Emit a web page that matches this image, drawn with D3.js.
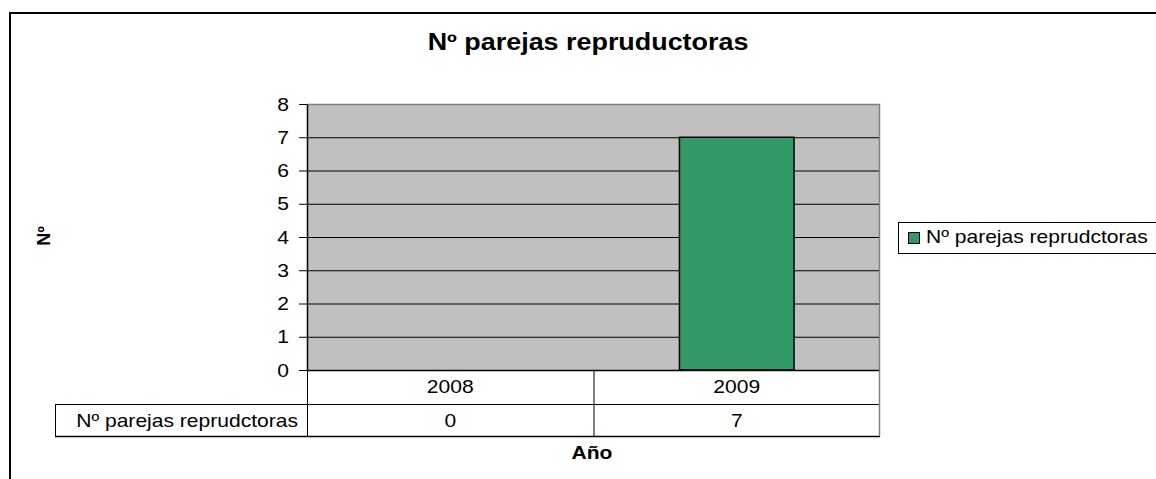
<!DOCTYPE html>
<html>
<head>
<meta charset="utf-8">
<script src="https://cdn.jsdelivr.net/npm/d3@7"></script>
<style>
  body { margin: 0; background: #fff; }
  text { font-family: "Liberation Sans", Arial, sans-serif; fill: #000; }
</style>
</head>
<body>
<div id="chart"></div>
<script>
var categories = ["2008", "2009"];
var values = [0, 7];
var seriesName = "Nº parejas reprudctoras";
var yTicks = [0, 1, 2, 3, 4, 5, 6, 7, 8];

var W = 1156, H = 479;
var plot = { left: 307, right: 880, top: 104, bottom: 370 };
var rowH = [34, 32];
var sx = 1.17; // the original picture is stretched sideways a bit

var svg = d3.select("#chart").append("svg")
    .attr("width", W)
    .attr("height", H);

// text that is stretched horizontally like the source image
function label(parent, x, y, str, size, anchor, bold) {
    return parent.append("text")
        .attr("transform", "translate(" + x + "," + y + ") scale(" + sx + ",1)")
        .attr("text-anchor", anchor || "start")
        .attr("font-size", size)
        .attr("font-weight", bold ? "bold" : null)
        .text(str);
}

// chart frame (cut off on the right and bottom)
svg.append("path")
    .attr("d", "M10,480 V13 H1160")
    .attr("fill", "none")
    .attr("stroke", "#000")
    .attr("stroke-width", 2);

var x = d3.scaleBand()
    .domain(categories)
    .range([plot.left, plot.right]);

var y = d3.scaleLinear()
    .domain([0, 8])
    .range([plot.bottom, plot.top]);

// plot background
svg.append("rect")
    .attr("x", plot.left)
    .attr("y", plot.top)
    .attr("width", plot.right - plot.left)
    .attr("height", plot.bottom - plot.top)
    .attr("fill", "#c0c0c0");

// gridlines
svg.append("g")
    .selectAll("line")
    .data(yTicks.filter(function(d) { return d > 0 && d < 8; }))
    .enter().append("line")
    .attr("x1", plot.left)
    .attr("x2", plot.right)
    .attr("y1", function(d) { return y(d) + 0.5; })
    .attr("y2", function(d) { return y(d) + 0.5; })
    .attr("stroke", "#000")
    .attr("stroke-width", 1);

// top and right plot border (gray)
svg.append("path")
    .attr("d", "M" + plot.left + "," + (plot.top + 0.5) + " H" + (plot.right - 0.5) + " V" + plot.bottom)
    .attr("fill", "none")
    .attr("stroke", "#808080")
    .attr("stroke-width", 1.5);

// bars
var barW = x.bandwidth() * 0.4;
svg.append("g")
    .selectAll("rect")
    .data(values)
    .enter().append("rect")
    .attr("x", function(d, i) { return x(categories[i]) + (x.bandwidth() - barW) / 2; })
    .attr("y", function(d) { return y(d); })
    .attr("width", barW)
    .attr("height", function(d) { return y(0) - y(d); })
    .attr("fill", "#339966")
    .attr("stroke", "#000")
    .attr("stroke-width", 1.5)
    .attr("display", function(d) { return d > 0 ? null : "none"; });

// y axis
var yAxis = svg.append("g")
    .attr("transform", "translate(" + plot.left + ",0)")
    .call(d3.axisLeft(y).tickValues(yTicks).tickSize(8).tickPadding(10).tickSizeOuter(0));
yAxis.select(".domain").attr("stroke", "#000").attr("stroke-width", 1.5);
yAxis.selectAll(".tick line").attr("stroke", "#000");
yAxis.selectAll(".tick text").remove();
yAxis.selectAll(".tick").each(function(d) {
    label(d3.select(this), -18, 6, d, 18, "end");
});

// data table
var t = svg.append("g").attr("fill", "none").attr("stroke", "#000").attr("stroke-width", 1);
var row1 = plot.bottom, row2 = plot.bottom + rowH[0], row3 = row2 + rowH[1];
var tableLeft = 55;
t.append("line").attr("x1", plot.left).attr("x2", plot.right).attr("y1", row1 + 0.5).attr("y2", row1 + 0.5).attr("stroke-width", 1.5);
t.append("line").attr("x1", tableLeft).attr("x2", plot.right).attr("y1", row2 + 0.5).attr("y2", row2 + 0.5);
t.append("line").attr("x1", tableLeft).attr("x2", plot.right).attr("y1", row3 + 0.5).attr("y2", row3 + 0.5).attr("stroke-width", 1.5);
t.append("line").attr("x1", tableLeft + 0.5).attr("x2", tableLeft + 0.5).attr("y1", row2).attr("y2", row3);
t.append("line").attr("x1", plot.left + 0.5).attr("x2", plot.left + 0.5).attr("y1", row1).attr("y2", row3);
t.append("line").attr("x1", plot.right - 0.5).attr("x2", plot.right - 0.5).attr("y1", row1).attr("y2", row3).attr("stroke", "#808080").attr("stroke-width", 1.5);
categories.slice(1).forEach(function(c) {
    t.append("line").attr("x1", x(c) + 0.5).attr("x2", x(c) + 0.5).attr("y1", row1).attr("y2", row3);
});

var tt = svg.append("g");
categories.forEach(function(c) {
    label(tt, x(c) + x.bandwidth() / 2, row1 + 23, c, 18, "middle");
});
values.forEach(function(v, i) {
    label(tt, x(categories[i]) + x.bandwidth() / 2, row2 + 23, v, 18, "middle");
});
label(tt, plot.left - 9, row2 + 23, seriesName, 18, "end");

// titles
label(svg, 588, 50, "Nº parejas repruductoras", 23, "middle", true);
label(svg, 592, 459, "Año", 18, "middle", true);

svg.append("text")
    .attr("transform", "translate(50,236) rotate(-90)")
    .attr("text-anchor", "middle")
    .attr("font-size", 18)
    .attr("font-weight", "bold")
    .text("Nº");

// legend
var lg = svg.append("g");
lg.append("rect")
    .attr("x", 898.5)
    .attr("y", 222.5)
    .attr("width", 300)
    .attr("height", 31)
    .attr("fill", "#fff")
    .attr("stroke", "#000");
lg.append("rect")
    .attr("x", 908.5)
    .attr("y", 232.5)
    .attr("width", 11)
    .attr("height", 11)
    .attr("fill", "#339966")
    .attr("stroke", "#000");
label(lg, 926, 243, seriesName, 18, "start");
</script>
</body>
</html>
